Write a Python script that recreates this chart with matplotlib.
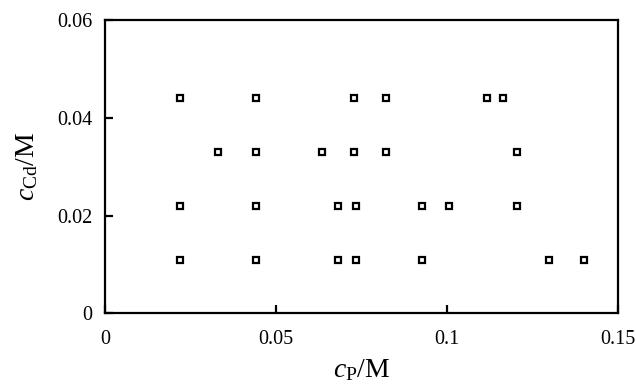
import matplotlib
matplotlib.use("Agg")
import matplotlib.pyplot as plt

plt.rcParams['font.family'] = ['Liberation Serif', 'DejaVu Serif']
plt.rcParams['mathtext.fontset'] = 'custom'
plt.rcParams['mathtext.rm'] = 'Liberation Serif'
plt.rcParams['mathtext.it'] = 'Liberation Serif:italic'

# Data: (c_P, c_Cd) grid points
cp_044 = [0.0219, 0.0442, 0.0728, 0.0822, 0.1117, 0.1164]
cp_033 = [0.0330, 0.0442, 0.0634, 0.0728, 0.0822, 0.1205]
cp_022 = [0.0219, 0.0442, 0.0681, 0.0734, 0.0927, 0.1006, 0.1205]
cp_011 = [0.0219, 0.0442, 0.0681, 0.0734, 0.0927, 0.1298, 0.1401]
cd_levels = [0.044, 0.033, 0.022, 0.011]

x_ticks = [0, 0.05, 0.1, 0.15]
x_ticklabels = ['0', '0.05', '0.1', '0.15']
y_ticks = [0, 0.02, 0.04, 0.06]
y_ticklabels = ['0', '0.02', '0.04', '0.06']

fig = plt.figure(figsize=(6.36, 3.87), dpi=100)
ax = fig.add_axes([105/636, 1 - 313.3/387, 513/636, 293.3/387])

for xs, yv in zip([cp_044, cp_033, cp_022, cp_011], cd_levels):
    ax.plot(xs, [yv]*len(xs), linestyle='none', marker='s', markersize=5,
            markerfacecolor='white', markeredgecolor='black', markeredgewidth=1.6)

ax.set_xlim(0, 0.15)
ax.set_ylim(0, 0.06)
ax.set_xticks(x_ticks)
ax.set_xticklabels(x_ticklabels)
ax.set_yticks(y_ticks)
ax.set_yticklabels(y_ticklabels)
ax.tick_params(direction='in', length=6, width=1.6, labelsize=14.5,
               top=False, right=False)
ax.tick_params(axis='x', pad=12)
ax.tick_params(axis='y', pad=9)
for s in ax.spines.values():
    s.set_linewidth(1.6)

ax.set_xlabel(r'$c_{\mathrm{P}}$/M', fontsize=20, labelpad=6)
ax.set_ylabel(r'$c_{\mathrm{Cd}}$/M', fontsize=20, labelpad=12)

fig.savefig('out.png', dpi=100)
